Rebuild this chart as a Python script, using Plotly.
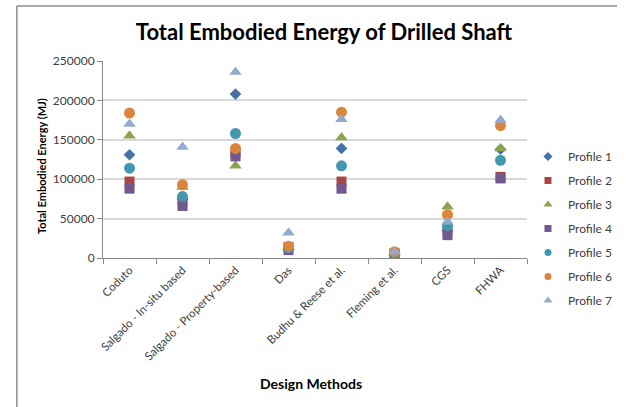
import plotly.graph_objects as go

methods = ["Coduto", "Salgado - In-situ based", "Salgado - Property-based", "Das",
           "Budhu & Reese et al.", "Fleming et al.", "CGS", "FHWA"]

profile_1 = [131000, 75000, 208000, 13000, 139000, 6000, 35000, 138000]
profile_2 = [97000, 72000, 133000, 14000, 97000, 6000, 35000, 103000]
profile_3 = [155000, 90000, 117000, 14000, 153000, 7000, 65000, 139000]
profile_4 = [88000, 66000, 129000, 10000, 88000, 5000, 29000, 101000]
profile_5 = [114000, 78000, 158000, 13000, 117000, 6000, 41000, 124000]
profile_6 = [184000, 93000, 139000, 15000, 185000, 8000, 55000, 168000]
profile_7 = [170000, 141000, 236000, 32000, 176000, 8000, 46000, 175000]

profiles = [
    ("Profile 1", profile_1, "diamond", "#4572A7", 9, 7),
    ("Profile 2", profile_2, "square", "#AA4643", 10, 7),
    ("Profile 3", profile_3, "triangle-up", "#89A54E", 11, 8),
    ("Profile 4", profile_4, "square", "#71588F", 10, 7),
    ("Profile 5", profile_5, "circle", "#4198AF", 11, 7),
    ("Profile 6", profile_6, "circle", "#DB843D", 11, 7),
    ("Profile 7", profile_7, "triangle-up", "#93A9CF", 11, 8),
]

FONT = "Lato, Calibri, Carlito, sans-serif"

fig = go.Figure()
for i, (name, vals, sym, col, size, lsize) in enumerate(profiles):
    fig.add_trace(go.Scatter(
        x=methods, y=vals, mode="markers", name=name,
        legendgroup=f"g{i}", showlegend=False,
        marker=dict(symbol=sym, color=col, size=size, line=dict(width=0)),
    ))
    # legend entry with the smaller symbol
    fig.add_trace(go.Scatter(
        x=[None], y=[None], mode="markers", name=name,
        legendgroup=f"g{i}", showlegend=True, hoverinfo="skip",
        marker=dict(symbol=sym, color=col, size=lsize, line=dict(width=0)),
    ))

W, H = 629, 407
L, R, T, B = 103, 88, 61, 149
pw, ph = W - L - R, H - T - B


def px(xp):
    return (xp - L) / pw


def py(yp):
    return 1 - (yp - T) / ph


fig.update_layout(
    width=W, height=H,
    margin=dict(l=L, r=R, t=T, b=B),
    paper_bgcolor="white", plot_bgcolor="white",
    font=dict(family=FONT, size=12, color="#404040"),
    title=dict(text="<b>Total Embodied Energy of Drilled Shaft</b>",
               x=324 / W, xanchor="center", y=1 - 32 / H, yanchor="middle",
               font=dict(family=FONT, size=22, color="#000000")),
    showlegend=True,
    legend=dict(x=px(542), xanchor="left", y=py(142), yanchor="top",
                traceorder="grouped", tracegroupgap=5,
                font=dict(family=FONT, size=12, color="#404040"),
                bgcolor="rgba(0,0,0,0)", itemclick=False),
    xaxis=dict(
        type="category", range=[-0.5, 7.5],
        showline=True, linecolor="#888888", linewidth=1,
        showgrid=False, ticks="outside", tickson="boundaries",
        ticklen=5, tickcolor="#888888", tickangle=-45,
        tickfont=dict(family=FONT, size=11.5, color="#404040"),
        zeroline=False,
    ),
    yaxis=dict(
        range=[0, 250000], dtick=50000, tickformat="d",
        showline=True, linecolor="#888888", linewidth=1,
        showgrid=True, gridcolor="#d9d9d9", gridwidth=1.5,
        ticks="outside", ticklen=5, tickcolor="#888888",
        tickfont=dict(family=FONT, size=12, color="#404040"),
        zeroline=False,
    ),
    annotations=[
        dict(text="<b>Design Methods</b>", xref="paper", yref="paper",
             x=px(318), y=py(383), xanchor="center", yanchor="middle",
             showarrow=False, font=dict(family=FONT, size=14, color="#000000")),
        dict(text="<b>Total Embodied Energy (MJ)</b>", xref="paper", yref="paper",
             x=px(39), y=py(166), xanchor="center", yanchor="middle",
             textangle=-90, showarrow=False,
             font=dict(family=FONT, size=11, color="#000000")),
    ],
)

# chart frame: left and top edges, running off the right and bottom
fig.add_shape(type="line", xref="paper", yref="paper",
              x0=px(14), x1=px(14), y0=py(6), y1=py(H + 5),
              line=dict(color="#8c8c8c", width=1.5))
fig.add_shape(type="line", xref="paper", yref="paper",
              x0=px(14), x1=px(W + 5), y0=py(6), y1=py(6),
              line=dict(color="#8c8c8c", width=1.5))

fig.write_html("out.html")
